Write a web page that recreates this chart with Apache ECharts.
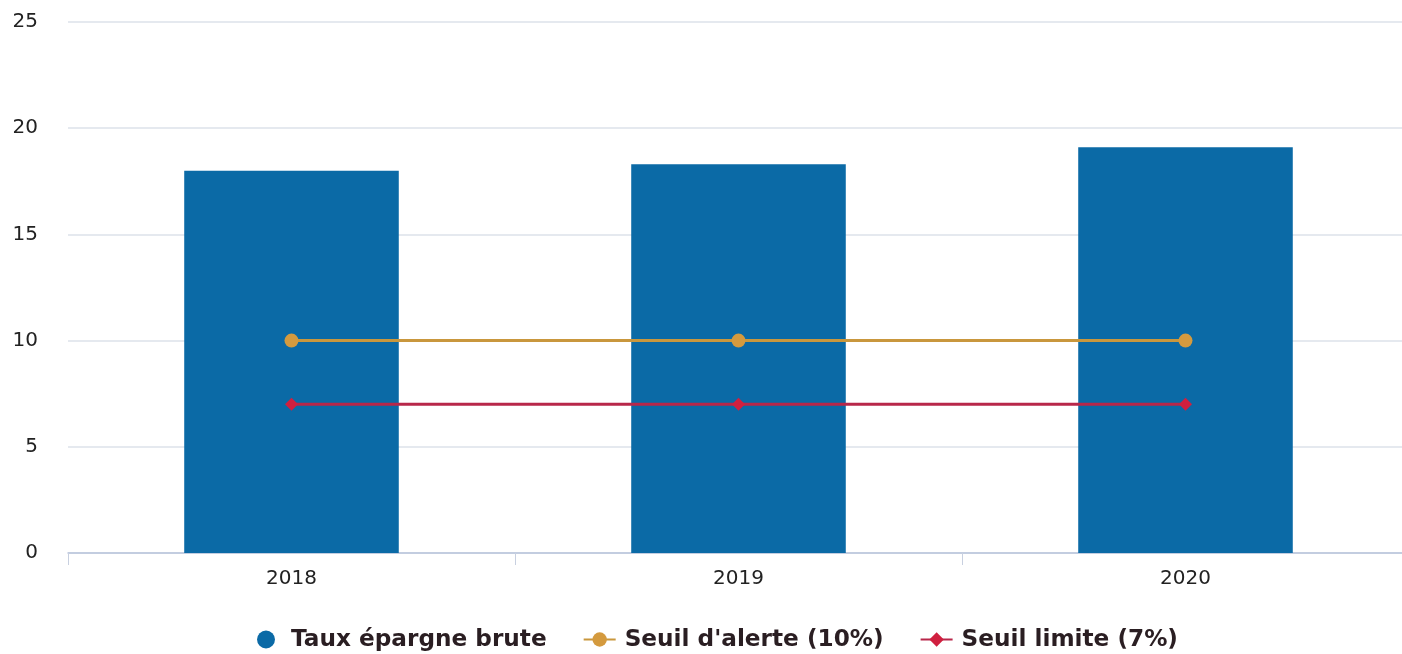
<!DOCTYPE html>
<html>
<head>
<meta charset="utf-8">
<script src="https://cdn.jsdelivr.net/npm/echarts@6/dist/echarts.min.js"></script>
<style>
  html, body { margin: 0; padding: 0; background: #fff; }
  #chart { width: 1402px; height: 654px; }
</style>
</head>
<body>
<div id="chart"></div>
<script>
const years = ["2018", "2019", "2020"];
const tauxEpargne = [18.0, 18.3, 19.1];
const seuilAlerte = [10, 10, 10];
const seuilLimite = [7, 7, 7];

const chart = echarts.init(document.getElementById("chart"));
const font = "DejaVu Sans";

chart.setOption({
  animation: false,
  grid: { left: 68, width: 1341, top: 22, bottom: 101, outerBoundsMode: "none" },
  legend: {
    bottom: -2,
    left: 252,
    itemGap: 36,
    itemWidth: 32,
    itemHeight: 18,
    textStyle: { fontFamily: font, fontWeight: "bold", fontSize: 23.2, color: "#2a1e22", padding: [0, 0, 0, 4] },
    data: [
      { name: "Taux épargne brute", icon: "circle" },
      { name: "Seuil d'alerte (10%)" },
      { name: "Seuil limite (7%)" }
    ]
  },
  xAxis: {
    type: "category",
    data: years,
    axisLine: { lineStyle: { color: "#b8c4dc", width: 1.5 } },
    axisTick: { show: true, length: 12, lineStyle: { color: "#c8d0e0" } },
    axisLabel: { fontFamily: font, fontSize: 20, color: "#222", margin: 16 }
  },
  yAxis: {
    type: "value",
    min: 0,
    max: 25,
    interval: 5,
    axisLine: { show: false },
    axisTick: { show: false },
    axisLabel: { fontFamily: font, fontSize: 20, color: "#222", margin: 30, align: "right" },
    splitLine: { lineStyle: { color: "#dde2ea", width: 1.5 } }
  },
  series: [
    {
      name: "Taux épargne brute",
      type: "bar",
      data: tauxEpargne,
      barWidth: "48%",
      itemStyle: { color: "#0b6aa6" }
    },
    {
      name: "Seuil d'alerte (10%)",
      type: "line",
      data: seuilAlerte,
      symbol: "circle",
      symbolSize: 14,
      lineStyle: { color: "#c9973d", width: 3 },
      itemStyle: { color: "#d49a3e" }
    },
    {
      name: "Seuil limite (7%)",
      type: "line",
      data: seuilLimite,
      symbol: "diamond",
      symbolSize: 13,
      lineStyle: { color: "#b8274a", width: 3 },
      itemStyle: { color: "#d0203f" }
    }
  ]
});
</script>
</body>
</html>
